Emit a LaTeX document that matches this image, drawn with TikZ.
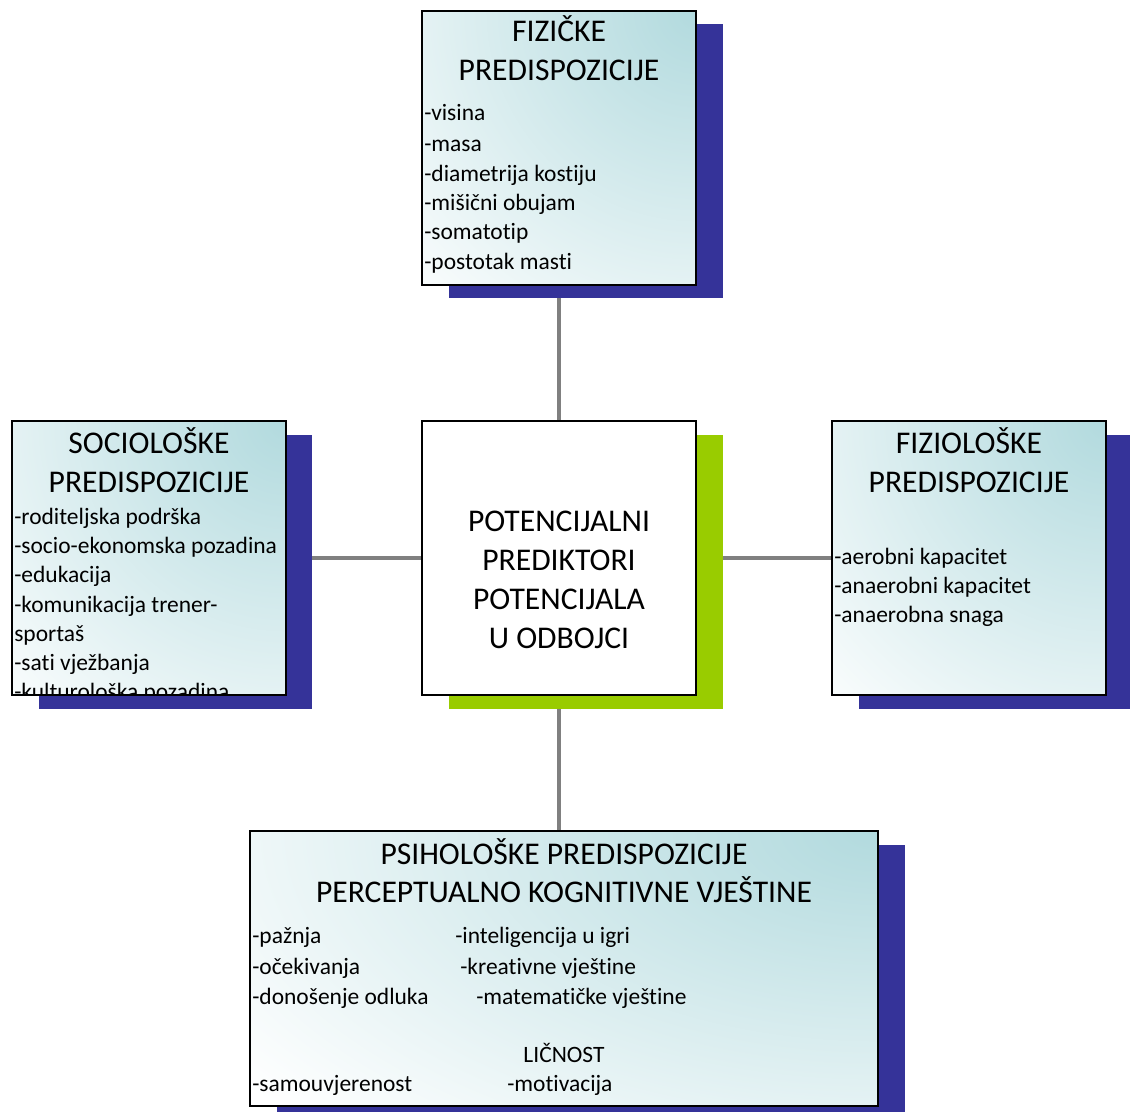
\documentclass[tikz,border=0pt]{standalone}
\usepackage{fontspec}
\setmainfont[Ligatures=NoCommon]{Carlito}
\definecolor{shblue}{HTML}{353399}
\definecolor{shgreen}{HTML}{99CC00}
\definecolor{teal}{HTML}{B2DADE}
\definecolor{conn}{HTML}{808080}
\begin{document}
\begin{tikzpicture}[x=0.75pt,y=-0.75pt,
  shadowblue/.style={fill=shblue,draw=none},
  shadowgreen/.style={fill=shgreen,draw=none},
  boxfill/.style={inner color=teal,outer color=white},
  boxline/.style={draw=black,line width=1.4pt},
  conline/.style={draw=conn,line width=3.6pt},
  ttl/.style={font=\fontsize{23.7}{28}\selectfont,anchor=base,inner sep=0pt},
  body/.style={font=\fontsize{17.6}{20}\selectfont,anchor=base west,inner sep=0pt}]
\useasboundingbox (0,0) rectangle (1130,1112);
% box frames as named coordinates
\coordinate (tA) at (422,11);   \coordinate (tB) at (696,285);
\coordinate (lA) at (12,421);   \coordinate (lB) at (286,695);
\coordinate (cA) at (422,421);  \coordinate (cB) at (696,695);
\coordinate (rA) at (832,421);  \coordinate (rB) at (1106,695);
\coordinate (bA) at (250,831);  \coordinate (bB) at (878,1106);
\coordinate (topc) at (559,285);
\coordinate (leftc) at (286,558);
\coordinate (cenc) at (559,558);
\coordinate (rightc) at (832,558);
\coordinate (botc) at (559,831);
% connectors
\draw[conline] (topc) -- (cenc);
\draw[conline] (leftc) -- (cenc);
\draw[conline] (rightc) -- (cenc);
\draw[conline] (botc) -- (cenc);
% shadows
\fill[shadowblue] (449,24) rectangle (723,298);
\fill[shadowblue] (39,435) rectangle (312,709);
\fill[shadowgreen] (449,435) rectangle (723,709);
\fill[shadowblue] (859,435) rectangle (1130,709);
\fill[shadowblue] (277,845) rectangle (905,1112);
% boxes (gradient from top-right corner)
\foreach \a/\b/\cx/\cy/\rx/\ry in {tA/tB/696/11/420/420,lA/lB/286/421/420/420,rA/rB/1106/421/420/420,bA/bB/878/831/800/420}{
  \begin{scope}
    \clip (\a) rectangle (\b);
    \fill[white] (\a) rectangle (\b);
    \shade[boxfill] (\cx,\cy) ellipse [x radius=\rx, y radius=\ry];
  \end{scope}
}
\fill[white] (cA) rectangle (cB);
% top box text
\node[ttl] (t1) at (559,42) {FIZIČKE};
\node[ttl] (t2) at (559,81) {PREDISPOZICIJE};
\node[body] (t3) at (424,121) {-visina};
\node[body] (t4) at (424,152) {-masa};
\node[body] (t5) at (424,182) {-diametrija kostiju};
\node[body] (t6) at (424,211) {-mišični obujam};
\node[body] (t7) at (424,240) {-somatotip};
\node[body] (t8) at (424,270) {-postotak masti};
% left box text
\begin{scope}
\clip (lA) rectangle (lB);
\node[ttl] (l1) at (149,453) {SOCIOLOŠKE};
\node[ttl] (l2) at (149,492) {PREDISPOZICIJE};
\node[body] (l3) at (14,524) {-roditeljska podrška};
\node[body] (l4) at (14,553) {-socio-ekonomska pozadina};
\node[body] (l5) at (14,582) {-edukacija};
\node[body] (l6) at (14,612) {-komunikacija trener-};
\node[body] (l7) at (14,641) {sportaš};
\node[body] (l8) at (14,670) {-sati vježbanja};
\node[body] (l9) at (14,699) {-kulturološka pozadina};
\end{scope}
% center text
\node[ttl] (c1) at (559,531) {POTENCIJALNI};
\node[ttl] (c2) at (559,570) {PREDIKTORI};
\node[ttl] (c3) at (559,609) {POTENCIJALA};
\node[ttl] (c4) at (559,648) {U ODBOJCI};
% right box text
\node[ttl] (r1) at (969,453) {FIZIOLOŠKE};
\node[ttl] (r2) at (969,492) {PREDISPOZICIJE};
\node[body] (r3) at (834,564) {-aerobni kapacitet};
\node[body] (r4) at (834,593) {-anaerobni kapacitet};
\node[body] (r5) at (834,622) {-anaerobna snaga};
% bottom box text
\node[ttl] (b1) at (564,864) {PSIHOLOŠKE PREDISPOZICIJE};
\node[ttl] (b2) at (564,902) {PERCEPTUALNO KOGNITIVNE VJEŠTINE};
\node[body] (b3) at (252,943) {-pažnja};
\node[body] (b4) at (252,974) {-očekivanja};
\node[body] (b5) at (252,1004) {-donošenje odluka};
\node[body] (b6) at (455,943) {-inteligencija u igri};
\node[body] (b7) at (460,974) {-kreativne vještine};
\node[body] (b8) at (476,1004) {-matematičke vještine};
\node[body,anchor=base] (b9) at (564,1062) {LIČNOST};
\node[body] (b10) at (252,1091) {-samouvjerenost};
\node[body] (b11) at (507,1091) {-motivacija};
% box borders
\foreach \a/\b in {tA/tB,lA/lB,cA/cB,rA/rB,bA/bB}{
  \draw[boxline] (\a) rectangle (\b);
}
\end{tikzpicture}
\end{document}
